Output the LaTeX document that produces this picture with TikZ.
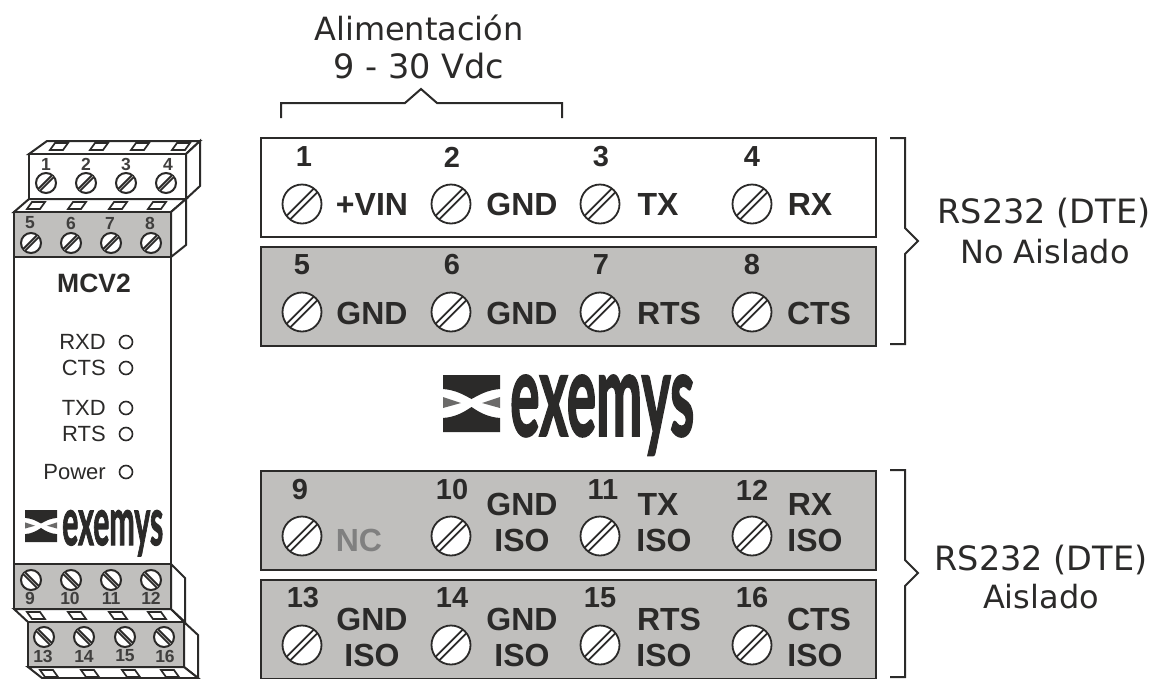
\documentclass[tikz,border=0pt]{standalone}
\usepackage{fontspec}
\usepackage{graphicx}
\setmainfont{Liberation Sans}
\newfontfamily\dejavu{DejaVu Sans}
\newfontfamily\logofont{Lato}[UprightFont=* Bold,FakeBold=2]
\definecolor{ink}{HTML}{2B2A29}
\definecolor{panel}{HTML}{C0BFBD}
\definecolor{ncgray}{HTML}{808080}
\tikzset{
  x=1pt,y=-1pt,
  outline/.style={draw=ink,line width=2pt,line join=miter},
  thin outline/.style={draw=ink,line width=1.7pt},
  pin/.style={font=\fontsize{29}{29}\selectfont\bfseries,text=ink,inner sep=0pt},
  sig/.style={font=\fontsize{32}{32}\selectfont\bfseries,text=ink,inner sep=0pt},
  tiny pin/.style={font=\fontsize{17.5}{18}\selectfont\bfseries,text=ink!90,inner sep=0pt},
  led label/.style={font=\fontsize{22}{22}\selectfont,text=ink,inner sep=0pt,anchor=east},
  caption/.style={font=\dejavu\fontsize{32}{32}\selectfont,text=ink,inner sep=0pt},
  caption wide/.style={font=\dejavu\fontsize{33.5}{34}\selectfont,text=ink,inner sep=0pt},
  logo text/.style={font=\logofont,text=ink,inner sep=0pt,anchor=north west},
  led/.style={draw=ink,line width=1.6pt,fill=white,circle,minimum size=13pt,inner sep=0pt},
}
% large screw: centre x, y
\newcommand{\bigscrew}[2]{%
  \draw[draw=ink,line width=1.8pt,fill=white] (#1,#2) circle (19.5);
  \draw[ink,line width=1.7pt] (#1-15.2,#2+11.6) -- (#1+11.6,#2-15.2);
  \draw[ink,line width=1.7pt] (#1-11.6,#2+15.2) -- (#1+15.2,#2-11.6);
}
% small screw: centre x, y, slope sign
\newcommand{\smallscrew}[3]{%
  \draw[draw=ink,line width=2pt,fill=white] (#1,#2) circle (10);
  \draw[ink,line width=4.4pt] (#1-7,{#2+#3*7}) -- (#1+7,{#2-#3*7});
  \draw[white!60!ink,line width=.7pt] (#1-7,{#2+#3*7}) -- (#1+7,{#2-#3*7});
}
% slot on a top or bottom face: left x, y of the lower edge, skew, height
\newcommand{\slotmark}[4]{%
  \draw[thin outline,fill=white] (#1,#2) -- (#1+#3,#2+#4) -- (#1+#3+13,#2+#4) -- (#1+13,#2) -- cycle;
}
% logo mark: left x, top y, size
\newcommand{\logomark}[3]{%
  \begin{scope}[shift={(#1,#2)},scale=#3/57]
    \fill[ink] (0,0) -- (57,0) -- (57,14) .. controls (44,15) and (36,20) .. (28.5,24) .. controls (21,20) and (13,15) .. (0,14) -- cycle;
    \fill[ink] (0,57) -- (57,57) -- (57,43) .. controls (44,42) and (36,37) .. (28.5,32) .. controls (21,37) and (13,42) .. (0,43) -- cycle;
    \fill[ink!70] (0,22) -- (18,28) -- (0,33) -- cycle;
    \fill[ink!70] (57,22) -- (39,28) -- (57,33) -- cycle;
  \end{scope}
}
\begin{document}
\begin{tikzpicture}
\useasboundingbox (0,0) rectangle (1162,678);
% ---- device ----
\fill[white] (0,0) rectangle (1162,678);
% top block 1
\draw[outline,fill=white] (29,154) -- (47,141) -- (200,141) -- (186,154) -- cycle;
\draw[outline,fill=white] (186,154) -- (200,141) -- (200,186) -- (186,199) -- cycle;
\draw[outline,fill=white] (29,154) rectangle (186,199);
\foreach \x in {50,90,131,172} {\slotmark{\x}{150}{5}{-7}}
% top block 2
\draw[outline,fill=white] (14,212) -- (29,199) -- (186,199) -- (171,212) -- cycle;
\draw[outline,fill=white] (171,212) -- (186,199) -- (186,245) -- (171,257) -- cycle;
\foreach \x in {27,68,109,148} {\slotmark{\x}{209}{5}{-7}}
% body
\draw[outline,fill=white] (14,257) rectangle (171,564);
\draw[outline,fill=panel] (14,212) rectangle (171,257);
% lower blocks
\draw[outline,fill=white] (14,609) -- (28,622) -- (184,622) -- (171,609) -- cycle;
\draw[outline,fill=white] (171,564) -- (185,578) -- (185,622) -- (171,609) -- cycle;
\foreach \x in {27,68,109,148} {\slotmark{\x}{612}{5}{7}}
\draw[outline,fill=panel] (14,564) rectangle (171,609);
\draw[outline,fill=white] (184,622) -- (198,635) -- (198,678) -- (184,667) -- cycle;
\draw[outline,fill=white] (28,667) -- (42,678) -- (198,678) -- (184,667) -- cycle;
\foreach \x in {40,81,122,161} {\slotmark{\x}{670}{5}{7}}
\draw[outline,fill=panel] (28,622) rectangle (184,667);
% device screws
\foreach \x in {46,86,126,166} {\smallscrew{\x}{183}{1}}
\foreach \x in {31,71,111,151} {\smallscrew{\x}{243}{1}}
\foreach \x in {31,71,111,151} {\smallscrew{\x}{580}{-1}}
\foreach \x in {44,84,125,164} {\smallscrew{\x}{637}{-1}}
% device numbers
\foreach \n/\x in {1/46,2/86,3/126,4/168} {\node[tiny pin] (d\n) at (\x,164) {\n};}
\foreach \n/\x in {5/30,6/71,7/110,8/150} {\node[tiny pin] (d\n) at (\x,223) {\n};}
\foreach \n/\x in {9/30,10/70,11/111,12/151} {\node[tiny pin] (d\n) at (\x,598) {\n};}
\foreach \n/\x in {13/43,14/84,15/125,16/165} {\node[tiny pin] (d\n) at (\x,656) {\n};}
\node[font=\fontsize{26.5}{27}\selectfont\bfseries,text=ink,inner sep=0pt] (model) at (94,283) {MCV2};
\foreach \t/\y in {RXD/342,CTS/368,TXD/408,RTS/434,Power/472} {
  \node[led label] (lab\t) at (106,\y) {\t};
  \node[led] (led\t) at (126,\y) {};
}
\logomark{25}{510}{32}
\node[logo text] (logosmall) at (62,510) {\resizebox*{101pt}{46pt}{exemys}};
% ---- terminal panels ----
\node[outline,fill=white,minimum width=615pt,minimum height=99pt,anchor=north west,inner sep=0pt] (rowA) at (260,137) {};
\node[outline,fill=panel,minimum width=615pt,minimum height=99pt,anchor=north west,inner sep=0pt] (rowB) at (260,246) {};
\node[outline,fill=panel,minimum width=615pt,minimum height=99pt,anchor=north west,inner sep=0pt] (rowC) at (260,470) {};
\node[outline,fill=panel,minimum width=615pt,minimum height=99pt,anchor=north west,inner sep=0pt] (rowD) at (260,579) {};
\foreach \x in {302,451,600,752} {
  \bigscrew{\x}{204}
  \bigscrew{\x}{312}
  \bigscrew{\x}{536}
  \bigscrew{\x}{645}
}
\foreach \n/\x in {1/304,2/452,3/601,4/752} {\node[pin] (p\n) at (\x,157) {\n};}
\foreach \n/\x in {5/302,6/452,7/601,8/752} {\node[pin] (p\n) at (\x,265) {\n};}
\foreach \n/\x in {9/300,10/452,11/603,12/752} {\node[pin] (p\n) at (\x,490) {\n};}
\foreach \n/\x in {13/303,14/452,15/600,16/752} {\node[pin] (p\n) at (\x,598) {\n};}
\node[sig] (s1) at (372,204) {+VIN};
\node[sig] (s2) at (522,204) {GND};
\node[sig] (s3) at (658,204) {TX};
\node[sig] (s4) at (810,204) {RX};
\node[sig] (s5) at (372,313) {GND};
\node[sig] (s6) at (522,313) {GND};
\node[sig] (s7) at (669,313) {RTS};
\node[sig] (s8) at (819,313) {CTS};
\node[sig,text=ncgray] (s9) at (359,540) {NC};
\node[sig] (s10a) at (522,504) {GND};
\node[sig] (s10b) at (522,540) {ISO};
\node[sig] (s11a) at (658,504) {TX};
\node[sig] (s11b) at (664,540) {ISO};
\node[sig] (s12a) at (810,504) {RX};
\node[sig] (s12b) at (815,540) {ISO};
\node[sig] (s13a) at (372,619) {GND};
\node[sig] (s13b) at (372,655) {ISO};
\node[sig] (s14a) at (522,619) {GND};
\node[sig] (s14b) at (522,655) {ISO};
\node[sig] (s15a) at (669,619) {RTS};
\node[sig] (s15b) at (664,655) {ISO};
\node[sig] (s16a) at (819,619) {CTS};
\node[sig] (s16b) at (815,655) {ISO};
% centre logo
\logomark{443}{375}{57}
\node[logo text] (logobig) at (510,375) {\resizebox*{184pt}{80pt}{exemys}};
% brackets
\draw[outline] (281,118) -- (281,103) -- (405,103) -- (421,89) -- (437,103) -- (562,103) -- (562,118);
\draw[outline] (890,138) -- (905,138) -- (905,228) -- (918,241) -- (905,254) -- (905,344) -- (890,344);
\draw[outline] (890,470) -- (905,470) -- (905,560) -- (918,573) -- (905,586) -- (905,677) -- (890,677);
% captions
\node[caption] (c1) at (419,28) {Alimentación};
\node[caption wide] (c2) at (419,66) {9 - 30 Vdc};
\node[caption wide] (c3) at (1044,213) {RS232 (DTE)};
\node[caption] (c4) at (1045,252) {No Aislado};
\node[caption wide] (c5) at (1041,560) {RS232 (DTE)};
\node[caption] (c6) at (1041,597) {Aislado};
\end{tikzpicture}
\end{document}
